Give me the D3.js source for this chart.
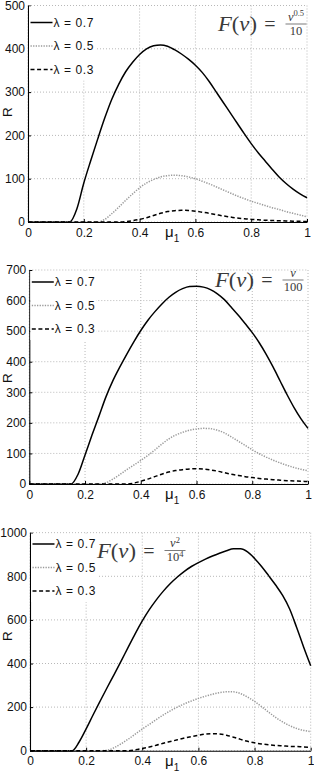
<!DOCTYPE html>
<html>
<head>
<meta charset="utf-8">
<script src="https://cdn.jsdelivr.net/npm/d3@7"></script>
<style>
  body { margin: 0; background: #fff; }
</style>
</head>
<body>
<svg id="chart" width="314" height="772"></svg>
<script>
// mu_1 sample points (0, 0.025, ... 1) shared by every curve
const mu = [0, 0.025, 0.05, 0.075, 0.1, 0.125, 0.15, 0.175, 0.2, 0.225,
            0.25, 0.275, 0.3, 0.325, 0.35, 0.375, 0.4, 0.425, 0.45, 0.475,
            0.5, 0.525, 0.55, 0.575, 0.6, 0.625, 0.65, 0.675, 0.7, 0.725,
            0.75, 0.775, 0.8, 0.825, 0.85, 0.875, 0.9, 0.925, 0.95, 0.975, 1];

// panel 1 : F(v) = v^0.5 / 10
const p1_l07 = [0, 0, 0, 0, 0, 0, 0, 30, 90, 142,
                192, 240, 283, 318, 347, 369, 387, 400, 407, 409,
                406, 398, 388, 376, 362, 345, 324, 300, 276, 252,
                228, 204, 181, 160, 141, 122, 104, 89, 76, 65, 56];
const p1_l05 = [0, 0, 0, 0, 0, 0, 0, 0, 0, 0,
                0, 6, 19, 34, 50, 65, 79, 90, 98, 104,
                107, 108, 107, 104, 100, 94, 88, 81, 74, 67,
                60, 54, 48, 43, 38, 33, 29, 24, 20, 16, 12];
const p1_l03 = [0, 0, 0, 0, 0, 0, 0, 0, 0, 0,
                0, 0, 0, 0, 1, 3, 6, 10, 15, 20,
                24, 26, 27, 26.5, 25, 22.5, 20, 17, 14, 11.5,
                9, 7.5, 6, 5, 4, 3.5, 3, 2.5, 2, 1.5, 1];

// panel 2 : F(v) = v / 100
const p2_l07 = [0, 0, 0, 0, 0, 0, 0, 32, 95, 160,
                222, 285, 338, 383, 425, 465, 502, 535, 563, 588,
                610, 627, 639, 646, 647, 644, 636, 622, 603, 578,
                552, 524, 495, 462, 424, 382, 337, 292, 250, 213, 182];
const p2_l05 = [0, 0, 0, 0, 0, 0, 0, 0, 0, 0,
                0, 4, 16, 31, 47, 62, 77, 93, 111, 130,
                147, 160, 169, 176, 180, 182, 181, 176, 167, 154,
                140, 126, 112, 99, 88, 78, 69, 61, 54, 48, 43];
const p2_l03 = [0, 0, 0, 0, 0, 0, 0, 0, 0, 0,
                0, 0, 0, 0, 0, 3, 9, 16, 24, 32,
                39, 44, 47, 49, 50, 49, 46, 42, 37, 32,
                28, 24, 21, 18, 16, 14, 12.5, 11, 10, 9, 8];

// panel 3 : F(v) = v^2 / 10^4
const p3_l07 = [0, 0, 0, 0, 0, 0, 0, 40, 100, 165,
                228, 290, 350, 412, 475, 537, 595, 647, 692, 732,
                767, 797, 823, 845, 863, 879, 893, 906, 917, 926,
                926, 912, 882, 845, 803, 760, 712, 650, 565, 475, 390];
const p3_l05 = [0, 0, 0, 0, 0, 0, 0, 0, 0, 0,
                0, 2, 14, 32, 53, 76, 99, 121, 143, 164,
                183, 200, 215, 228, 240, 250, 259, 266, 270, 270,
                262, 246, 226, 202, 177, 153, 132, 115, 102, 93, 88];
const p3_l03 = [0, 0, 0, 0, 0, 0, 0, 0, 0, 0,
                0, 0, 0, 0, 0, 4, 10, 17, 25, 34,
                42, 50, 58, 65, 71, 76, 78, 77, 71, 62,
                52, 43, 36, 31, 27, 24, 22, 20, 19, 17, 16];

const xTicks = [0, 0.2, 0.4, 0.6, 0.8, 1];
const xTickLabels = ["0", "0.2", "0.4", "0.6", "0.8", "1"];
const yTicks1 = [0, 100, 200, 300, 400, 500];
const yTicks2 = [0, 100, 200, 300, 400, 500, 600, 700];
const yTicks3 = [0, 200, 400, 600, 800, 1000];
const legendLabels = ["λ = 0.7", "λ = 0.5", "λ = 0.3"];

// line styles for lambda = 0.7, 0.5, 0.3
const styles = [
  { stroke: "#000", dash: null },
  { stroke: "#9a9a9a", dash: "1.3,1.3" },
  { stroke: "#000", dash: "4,2.6" }
];

const panels = [
  { series: [p1_l07, p1_l05, p1_l03], yTicks: yTicks1, ymax: 500,
    left: 28, right: 307, top: 5.5, bottom: 222, legY: 22.5, rY: 112,
    fx: 218, fy: 31, num: ["v", "0.5"], den: ["10", ""] },
  { series: [p2_l07, p2_l05, p2_l03], yTicks: yTicks2, ymax: 700,
    left: 29.3, right: 308, top: 270, bottom: 484, legY: 282, rY: 378,
    fx: 215, fy: 287, num: ["v", ""], den: ["100", ""] },
  { series: [p3_l07, p3_l05, p3_l03], yTicks: yTicks3, ymax: 1000,
    left: 30, right: 310.7, top: 532.7, bottom: 750.7, legY: 544, rY: 636,
    fx: 97, fy: 557.5, num: ["v", "2"], den: ["10", "4"] }
];

const svg = d3.select("#chart");
const sans = "'Liberation Sans', Arial, Helvetica, sans-serif";
const serif = "'Liberation Serif', 'DejaVu Serif', serif";

panels.forEach(p => {
  const x = d3.scaleLinear().domain([0, 1]).range([p.left, p.right]);
  const y = d3.scaleLinear().domain([0, p.ymax]).range([p.bottom, p.top]);
  const g = svg.append("g");

  // dotted grid
  g.append("g").selectAll("line").data(xTicks).join("line")
    .attr("x1", d => x(d)).attr("x2", d => x(d))
    .attr("y1", p.top).attr("y2", p.bottom)
    .attr("stroke", "#b8b8b8").attr("stroke-width", 1)
    .attr("stroke-dasharray", "1,2");
  g.append("g").selectAll("line").data(p.yTicks).join("line")
    .attr("x1", p.left).attr("x2", p.right)
    .attr("y1", d => y(d)).attr("y2", d => y(d))
    .attr("stroke", "#b8b8b8").attr("stroke-width", 1)
    .attr("stroke-dasharray", "1,2");

  // curves
  const line = d3.line()
    .x((d, i) => x(mu[i]))
    .y(d => y(d))
    .curve(d3.curveMonotoneX);
  p.series.forEach((s, k) => {
    g.append("path")
      .attr("d", line(s))
      .attr("fill", "none")
      .attr("stroke", styles[k].stroke)
      .attr("stroke-width", 1.5)
      .attr("stroke-dasharray", styles[k].dash);
  });

  // axes
  const ax = g.append("g")
    .attr("transform", "translate(0," + p.bottom + ")")
    .call(d3.axisBottom(x).tickValues(xTicks)
      .tickFormat((d, i) => xTickLabels[i])
      .tickSizeInner(-3).tickSizeOuter(0).tickPadding(6));
  const ay = g.append("g")
    .attr("transform", "translate(" + p.left + ",0)")
    .call(d3.axisLeft(y).tickValues(p.yTicks)
      .tickFormat(d3.format("d"))
      .tickSizeInner(-3).tickSizeOuter(0).tickPadding(3));
  [ax, ay].forEach(a => {
    a.select(".domain").attr("stroke", "#000").attr("stroke-width", 1.1);
    a.selectAll(".tick line").attr("stroke", "#000");
    a.selectAll(".tick text").attr("font-family", sans).attr("font-size", 12).attr("fill", "#111");
  });

  // axis titles
  const xl = g.append("text")
    .attr("x", 165).attr("y", p.bottom + 15)
    .attr("font-family", sans).attr("fill", "#111");
  xl.append("tspan").attr("font-size", 15).text("μ");
  xl.append("tspan").attr("font-size", 10).attr("dy", 5).text("1");

  g.append("text")
    .attr("transform", "translate(12," + p.rY + ") rotate(-90)")
    .attr("text-anchor", "middle")
    .attr("font-family", sans).attr("font-size", 13.5).attr("fill", "#111")
    .text("R");

  // legend
  const lg = g.append("g");
  lg.append("rect")
    .attr("x", p.left + 1).attr("y", p.top + 1)
    .attr("width", 66).attr("height", p.legY - p.top + 2 * 23.5 + 10)
    .attr("fill", "#fff");
  legendLabels.forEach((lab, k) => {
    const ly = p.legY + k * 23.5;
    lg.append("line")
      .attr("x1", p.left + 2.5).attr("x2", p.left + 24.5)
      .attr("y1", ly).attr("y2", ly)
      .attr("stroke", styles[k].stroke).attr("stroke-width", 1.5)
      .attr("stroke-dasharray", styles[k].dash);
    lg.append("text")
      .attr("x", p.left + 25.5).attr("y", ly + 4.3)
      .attr("font-family", sans).attr("font-size", 12).attr("fill", "#111")
      .attr("textLength", 40).attr("lengthAdjust", "spacing")
      .text(lab);
  });

  // formula F(v) = num / den
  const f = g.append("g").attr("font-family", serif).attr("fill", "#3a3a3a");
  const fv = f.append("text").attr("x", p.fx).attr("y", p.fy).attr("font-size", 20)
    .attr("textLength", 39).attr("lengthAdjust", "spacingAndGlyphs");
  fv.append("tspan").attr("font-style", "italic").text("F");
  fv.append("tspan").text("(");
  fv.append("tspan").attr("font-style", "italic").text("v");
  fv.append("tspan").text(")");
  f.append("text").attr("x", p.fx + 52).attr("y", p.fy).attr("font-size", 20)
    .attr("text-anchor", "middle").text("=");
  const cx = p.fx + 78;
  f.append("line")
    .attr("x1", cx - 10.5).attr("x2", cx + 10.5)
    .attr("y1", p.fy - 7).attr("y2", p.fy - 7)
    .attr("stroke", "#444").attr("stroke-width", 0.7);
  const nt = f.append("text").attr("x", cx).attr("y", p.fy - 10.5)
    .attr("text-anchor", "middle").attr("font-size", 12.5);
  nt.append("tspan").attr("font-style", "italic").text(p.num[0]);
  if (p.num[1]) nt.append("tspan").attr("font-size", 8.5).attr("dy", -4.5).text(p.num[1]);
  const dt = f.append("text").attr("x", cx).attr("y", p.fy + 3.5)
    .attr("text-anchor", "middle").attr("font-size", 12.5);
  dt.append("tspan").text(p.den[0]);
  if (p.den[1]) dt.append("tspan").attr("font-size", 8.5).attr("dy", -4.5).text(p.den[1]);
});
</script>
</body>
</html>
